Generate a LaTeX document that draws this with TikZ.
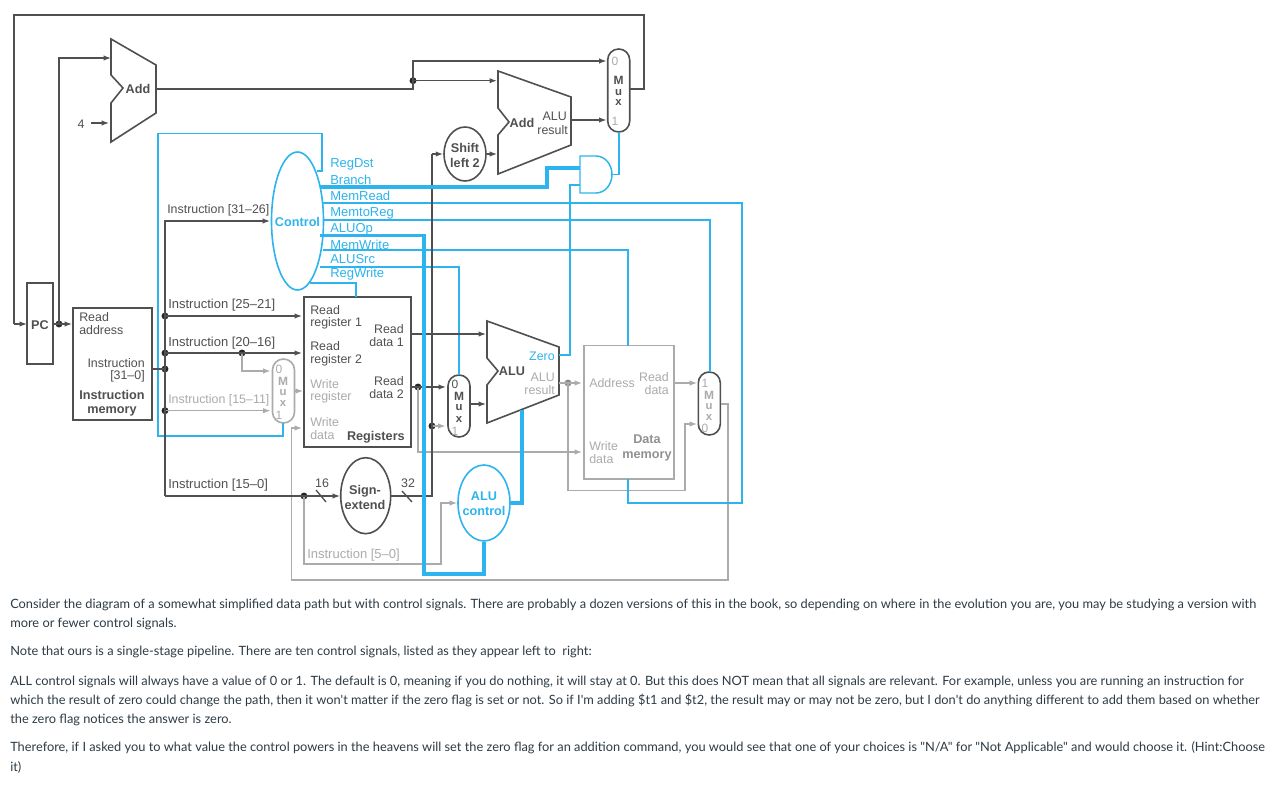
\documentclass[tikz,border=0pt]{standalone}
\usepackage{fontspec}
\setmainfont{Liberation Sans}
\newfontfamily\bodyfont{Lato}
\usetikzlibrary{arrows.meta,calc,shapes.geometric}
\definecolor{cy}{HTML}{2DB4EE}
\definecolor{dk}{HTML}{505050}
\definecolor{lg}{HTML}{ABABAB}
\definecolor{txt}{HTML}{2D3B45}
\tikzset{
 wire/.style={draw=dk,line width=1pt},
 awire/.style={wire,-{Latex[length=5.5pt,width=4pt]}},
 gwire/.style={draw=lg,line width=0.9pt},
 agwire/.style={gwire,-{Latex[length=5.5pt,width=4pt]}},
 cwire/.style={draw=cy,line width=1pt},
 cthick/.style={draw=cy,line width=2.4pt},
 dotn/.style={circle,fill=black!85,inner sep=0pt,minimum size=5.2pt},
 lab/.style={inner sep=0pt,yshift=-0.9pt,font=\fontsize{9.3pt}{9.6pt}\selectfont,text=dk,align=left},
 labr/.style={lab,align=right,anchor=east},
 labl/.style={lab,anchor=west},
 wlab/.style={font=\fontsize{9.75pt}{10pt}\selectfont},
 blab/.style={inner sep=0pt,yshift=-0.9pt,font=\bfseries\fontsize{9.5pt}{11pt}\selectfont,text=dk,align=center},
 mlab/.style={inner sep=0pt,yshift=-0.9pt,text=dk,font=\bfseries\fontsize{9pt}{9pt}\selectfont},
 ulab/.style={inner sep=0pt,yshift=-0.9pt,text=dk,font=\bfseries\fontsize{8.5pt}{9pt}\selectfont},
 dlab/.style={inner sep=0pt,yshift=-0.9pt,text=lg,font=\fontsize{9pt}{9pt}\selectfont},
 clab/.style={labl,wlab,text=cy},
 boxn/.style={draw=dk,line width=1.2pt,inner sep=0pt},
 muxn/.style={draw=dk,line width=1.2pt,inner sep=0pt,rounded corners=8.2pt},
 ell/.style={ellipse,draw=dk,line width=1.2pt,inner sep=0pt},
 para/.style={inner sep=0pt,yshift=-1.1pt,anchor=west,text=txt,font=\bodyfont\fontsize{9.61pt}{14pt}\selectfont},
}
\begin{document}
\begin{tikzpicture}[x=0.75pt,y=-0.75pt]
\useasboundingbox (0,0) rectangle (1282,788);
\fill[white] (0,0) rectangle (1282,788);
% ---- shapes
\node[boxn,minimum width=19.5pt,minimum height=60.75pt] (pc) at (40,323.5) {};
\node[boxn,minimum width=59.25pt,minimum height=84pt] (imem) at (112.5,364) {};
\node[boxn,minimum width=80pt,minimum height=112.5pt] (regs) at (357.5,372) {};
\node[draw=lg,line width=1pt,inner sep=0pt,minimum width=67.5pt,minimum height=100pt] (dmem) at (629,412.3) {};
\node[ell,minimum width=31.5pt,minimum height=40.5pt] (shift) at (465,154) {};
\node[ell,minimum width=37.5pt,minimum height=57pt] (sign) at (365.7,495.7) {};
\node[ellipse,draw=cy,line width=1.2pt,inner sep=0pt,minimum width=39pt,minimum height=103.5pt] (control) at (297.5,221) {};
\node[ellipse,draw=cy,line width=1.2pt,inner sep=0pt,minimum width=39pt,minimum height=57pt] (aluctl) at (484,503) {};
\node[muxn,minimum width=16.5pt,minimum height=62.25pt] (muxtop) at (618.7,90.5) {};
\node[muxn,draw=lg,minimum width=16.5pt,minimum height=48pt] (muxreg) at (283.5,391) {};
\node[muxn,minimum width=16.5pt,minimum height=46.5pt] (muxalu) at (459,406) {};
\node[muxn,minimum width=16.5pt,minimum height=47.25pt] (muxmem) at (709.3,403.5) {};
% polygons
\draw[dk,line width=1.2pt,line join=miter] (111,39)--(156,65)--(156,113)--(111,142)--(111,103)--(123,88)--(111,75)--cycle;
\draw[dk,line width=1.2pt] (498,71)--(571,97)--(571,145)--(498,174)--(498,135)--(509,122)--(498,108)--cycle;
\draw[dk,line width=1.2pt] (487,321)--(559,347)--(559,395)--(487,423)--(487,385)--(498,371)--(487,358)--cycle;
\draw[cy,line width=1.1pt] (596,156)--(580,156)--(580,193)--(596,193) arc[start angle=-90,end angle=90,x radius=12pt,y radius=13.875pt];
% ---- ports and junctions
\coordinate (addA) at (111,58); \coordinate (addB) at (109,123); \coordinate (addO) at (156,89);
\coordinate (fourR) at (91,123);
\coordinate (add2A) at (497,80.7); \coordinate (add2B) at (497,154); \coordinate (add2O) at (571,120);
\coordinate (muxT0) at (606.5,61); \coordinate (muxT1) at (606.5,120); \coordinate (muxTO) at (630,89);
\coordinate (pcL) at (27,324); \coordinate (imemIn) at (72,324);
\coordinate (imemOut) at (152,369); \coordinate (ctlIn) at (270,221);
\coordinate (rr1) at (302,316); \coordinate (rr2) at (302,353); \coordinate (wr) at (303,391); \coordinate (wd) at (302,428);
\coordinate (rd1) at (411,334); \coordinate (rd2) at (411,387);
\coordinate (aluA) at (486,334); \coordinate (aluB) at (486,404); \coordinate (mux2O) at (470,404);
\coordinate (mux2A) at (446,387); \coordinate (mux2B) at (445.5,426);
\coordinate (mr0) at (270.5,371); \coordinate (mr1) at (270.5,410.7);
\coordinate (signIn) at (340,496); \coordinate (signOut) at (390.5,496);
\coordinate (ctlAi) at (457,503);
\coordinate (aluRes) at (559,383); \coordinate (addr) at (582,383); \coordinate (wdm) at (582,452);
\coordinate (rdOut) at (674,383); \coordinate (mm1) at (697,383); \coordinate (mm0) at (697,424); \coordinate (mmO) at (720.5,404);
\coordinate (andT) at (580,168); \coordinate (andB) at (580,185); \coordinate (andO) at (612,174.5);
\coordinate (zero) at (559,355);
% dots
\node[dotn] (dPC) at (59,324) {};
\node[dotn] (dAdd) at (413,80.7) {};
\node[dotn] (d1) at (165,316) {};
\node[dotn] (d2) at (165,353) {};
\node[dotn] (d3) at (165,369) {};
\node[dotn] (d4) at (165,410.7) {};
\node[dotn] (d5) at (242,353) {};
\node[dotn] (d6) at (304,496) {};
\node[dotn] (d7) at (418,387) {};
\node[dotn] (d8) at (432,426) {};
\node[dotn,fill=lg!80!black] (d9) at (568,383) {};
% ---- gray wires
\draw[agwire] (d5.center) |- (mr0);
\draw[agwire] (d4.center) -- (mr1);
\draw[agwire] (muxreg.east |- wr) -- (wr);
\draw[agwire] (d6.center) -- (304,564) -| (441,503) -- (ctlAi);
\draw[agwire] (mmO) -- (728,404) -- (728,580) -- (291.7,580) |- (wd);
\draw[agwire] (d7.center) |- (wdm);
\draw[agwire] (aluRes) -- (addr);
\draw[agwire] (d9.center) |- (685,490.7) |- (mm0);
\draw[agwire] (rdOut) -- (mm1);
\draw[agwire] (d8.center) -- (mux2B);
% ---- cyan wires
\draw[cwire] (317,171) -- (322,171) -- (322,133.5) -- (158,133.5) -- (158,436) -- (283,436) -- (283,423);
\draw[cwire] (322,203) -- (742,203) -- (742,503) -- (628,503) -- (628,479);
\draw[cwire] (324,220) -- (710,220) -- (710,372);
\draw[cwire] (323,250) -- (628,250) -- (628,346);
\draw[cwire] (320,267) -- (459,267) -- (459,375);
\draw[cwire] (310,283) -- (356,283) -- (356,297);
\draw[cwire] (zero) -- (570,355) -- (570,185) -- (andB);
\draw[cwire] (andO) -- (619,174.5) -- (619,132);
% ---- dark wires
\draw[wire] (muxTO) -- (644,89) -- (644,15) -- (14,15) -- (14,324);
\draw[awire] (14,324) -- (pcL);
\draw[wire] (pc.east |- dPC) -- (dPC.center);
\draw[awire] (dPC.center) -- (imemIn);
\draw[awire] (dPC.center) |- (addA);
\draw[awire] (fourR) -- (addB);
\draw[wire] (addO) -- (413,89) -- (dAdd.center);
\draw[awire] (dAdd.center) -- (413,61) -- (muxT0);
\draw[awire] (dAdd.center) -- (add2A);
\draw[awire] (shift.east) -- (add2B);
\draw[awire] (add2O) -- (muxT1);
\draw[wire] (imemOut) -- (d3.center);
\draw[awire] (165,496) -- (165,221) -- (ctlIn);
\draw[awire] (d1.center) -- (rr1);
\draw[awire] (d2.center) -- (rr2);
\draw[awire] (165,496) -- (signIn);
\draw[wire] (316,490) -- (326,502);
\draw[wire] (signOut) -- (432,496) -- (432,154);
\draw[awire] (432,154) -- (shift.west);
\draw[wire] (402,491) -- (412,502);
\draw[awire] (rd1) -- (aluA);
\draw[awire] (rd2) -- (mux2A);
\draw[awire] (mux2O) -- (aluB);
% ---- thick control wires
\draw[cthick] (320,187) -- (547,187) -- (547,168) -- (andT);
\draw[cthick] (320,235.7) -- (424,235.7) -- (424,574) -- (484,574) -- (aluctl.south);
\draw[cthick] (aluctl.east) -- (522,503) -- (522,410);
% ---- labels
\node[blab] (tPC) at (40,323.5) {PC};
\node[blab] (tAdd1) at (138,87.5) {Add};
\node[lab] (t4) at (81,123) {4};
\node[blab] (tAdd2) at (522,122) {Add};
\node[labr] (tALU2) at (567,115) {ALU};
\node[labr] (tres2) at (568,128.5) {result};
\node[blab] (tShift) at (465,154) {Shift\\left 2};
\node[mlab] (tM1) at (618.5,79) {M};
\node[ulab] (tu1) at (618.5,91) {u};
\node[ulab] (tx1) at (618.5,101) {x};
\node[dlab] (t01) at (615,60) {0};
\node[dlab] (t11) at (615,120) {1};
\node[blab,text=cy] (tCtl) at (297.5,221) {Control};
\node[clab] (s1) at (330,163) {RegDst};
\node[clab] (s2) at (330,179) {Branch};
\node[clab] (s3) at (330,195) {MemRead};
\node[clab] (s4) at (330,212) {MemtoReg};
\node[clab] (s5) at (330,228) {ALUOp};
\node[clab] (s6) at (330,243.5) {MemWrite};
\node[clab] (s7) at (330,258) {ALUSrc};
\node[clab] (s8) at (330,273) {RegWrite};
\node[labl] (i1) at (167,209) {Instruction [31–26]};
\node[labl,wlab] (i2) at (168,304) {Instruction [25–21]};
\node[labl,wlab] (i3) at (168,342) {Instruction [20–16]};
\node[labl,text=lg] (i4) at (168,399) {Instruction [15–11]};
\node[labl,wlab] (i5) at (168,484) {Instruction [15–0]};
\node[labl,wlab,text=lg] (i6) at (307,554) {Instruction [5–0]};
\node[labl] (tra) at (79,322) {Read\\address};
\node[labr] (tio) at (145,369) {Instruction\\{[31–0]}};
\node[blab] (tim) at (112,402) {Instruction\\memory};
\node[labl] (trr1) at (310,316) {Read\\register 1};
\node[labr] (trd1) at (404,334) {Read\\data 1};
\node[labl] (trr2) at (310,352.5) {Read\\register 2};
\node[labr] (trd2) at (404,386) {Read\\data 2};
\node[labl,text=lg] (twr) at (310,390) {Write\\register};
\node[labl,text=lg] (twd) at (310,427.5) {Write\\data};
\node[blab,anchor=east] (tregs) at (405,436.5) {Registers};
\node[mlab,text=lg] (tM2) at (283,380) {M};
\node[ulab,text=lg] (tu2) at (283,391) {u};
\node[ulab,text=lg] (tx2) at (283,402) {x};
\node[dlab] (t02) at (279,368) {0};
\node[dlab] (t12) at (279,414) {1};
\node[lab] (t16) at (322,482) {16};
\node[lab] (t32) at (408,482) {32};
\node[blab] (tsign) at (365,496) {Sign-\\extend};
\node[blab,text=cy] (tac) at (484,502.5) {ALU\\control};
\node[blab] (tALU) at (512,370.5) {ALU};
\node[labr,text=cy] (tzero) at (555,355) {Zero};
\node[labr,text=lg] (tar) at (555,382.5) {ALU\\result};
\node[mlab] (tM3) at (459,395) {M};
\node[ulab] (tu3) at (459,406) {u};
\node[ulab] (tx3) at (459,418) {x};
\node[dlab,text=dk] (t03) at (455,383) {0};
\node[dlab] (t13) at (455,430) {1};
\node[labl,text=lg] (taddr) at (589,382) {Address};
\node[labr,text=lg] (trdm) at (669,382.5) {Read\\data};
\node[labl,text=lg] (twdm) at (589,451) {Write\\data};
\node[blab,text=lg!85!black] (tdm) at (647,446.5) {Data\\memory};
\node[mlab,text=lg] (tM4) at (709,394) {M};
\node[ulab,text=lg] (tu4) at (709,405) {u};
\node[ulab,text=lg] (tx4) at (709,416) {x};
\node[dlab] (t14) at (705,382) {1};
\node[dlab] (t04) at (705,427) {0};
% ---- paragraph text
\node[para] (p1) at (10,603) {Consider the diagram of a somewhat simplified data path but with control signals. There are probably a dozen versions of this in the book, so depending on where in the evolution you are, you may be studying a version with};
\node[para] (p2) at (10,622) {more or fewer control signals.};
\node[para] (p3) at (10,650) {Note that ours is a single-stage pipeline. There are ten control signals, listed as they appear left to\ \ right:};
\node[para] (p4) at (10,680) {ALL control signals will always have a value of 0 or 1. The default is 0, meaning if you do nothing, it will stay at 0. But this does NOT mean that all signals are relevant. For example, unless you are running an instruction for};
\node[para] (p5) at (10,699) {which the result of zero could change the path, then it won't matter if the zero flag is set or not. So if I'm adding \$t1 and \$t2, the result may or may not be zero, but I don't do anything different to add them based on whether};
\node[para] (p6) at (10,718) {the zero flag notices the answer is zero.};
\node[para] (p7) at (10,746) {Therefore, if I asked you to what value the control powers in the heavens will set the zero flag for an addition command, you would see that one of your choices is "N/A" for "Not Applicable" and would choose it. (Hint:Choose};
\node[para] (p8) at (10,766) {it)};
\end{tikzpicture}
\end{document}
